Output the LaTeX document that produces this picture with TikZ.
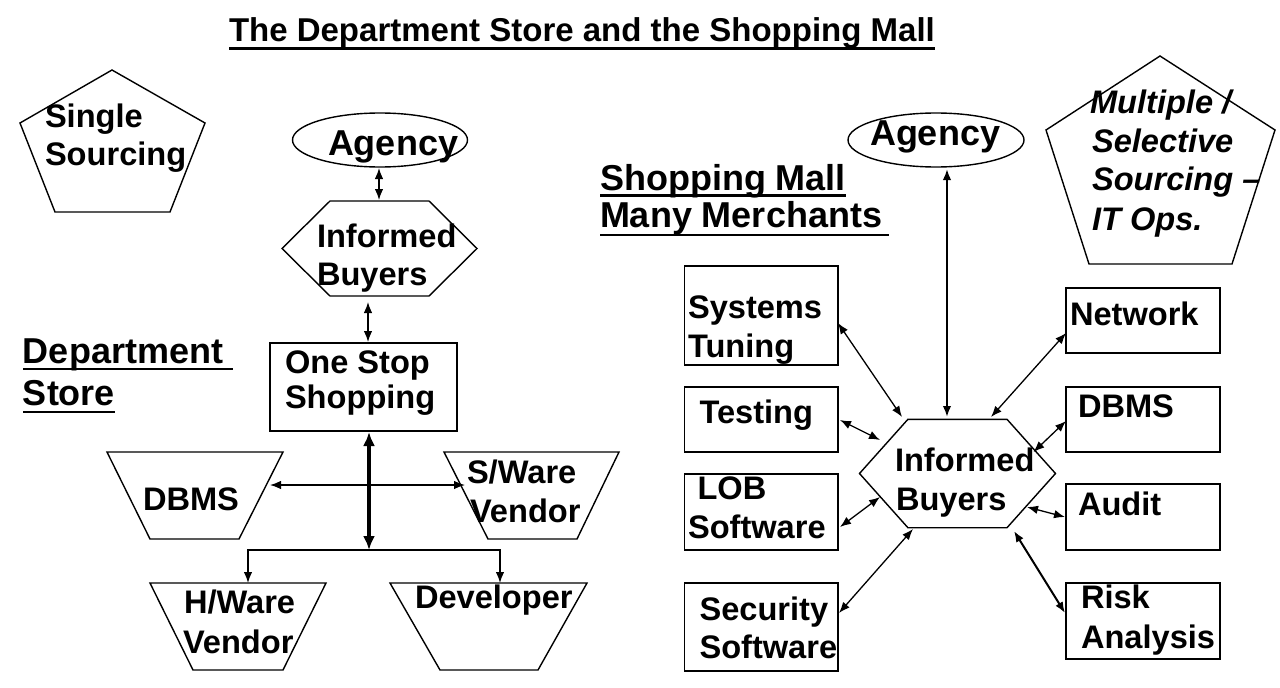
\documentclass[tikz,border=0pt]{standalone}
\usepackage{fontspec}
\setmainfont{Liberation Sans}
\usetikzlibrary{arrows.meta,calc,shapes.geometric}
\begin{document}
\begin{tikzpicture}[x=1pt,y=-1pt,
  every node/.style={inner sep=0pt, outer sep=0pt},
  txt/.style={anchor=base west, font=\fontsize{32.6}{38}\selectfont\bfseries},
  bigtxt/.style={anchor=base west, font=\fontsize{36}{42}\selectfont\bfseries},
  itxt/.style={anchor=base west, font=\fontsize{32.6}{38}\selectfont\bfseries\itshape},
  ttl/.style={anchor=base west, font=\fontsize{33}{40}\selectfont\bfseries},
  shp/.style={draw=black, line width=1.4pt, line join=miter},
  rboxL/.style={draw=black, line width=1.4pt, minimum width=153.5pt},
  rboxR/.style={draw=black, line width=1.4pt, minimum width=154pt},
  oval/.style={draw=black, ellipse, line width=1.4pt, minimum width=175pt, minimum height=54pt},
  tip/.tip={Latex[length=11pt,width=8.5pt]},
  bi/.style={tip-tip, line width=1.3pt},
  bithick/.style={{Latex[length=14pt,width=12pt]}-{Latex[length=14pt,width=12pt]}, line width=3.2pt},
  uline/.style={line width=2.6pt}
]
\fill[white] (0,0) rectangle (1280,688);
\useasboundingbox (0,0) rectangle (1280,688);

% ---------- title ----------
\node[ttl] (title) at (229,41.5) {The Department Store and the Shopping Mall};
\draw[uline, line width=3pt] ([shift={(0,6.5)}]title.base west) -- ([shift={(0,6.5)}]title.base east);

% ---------- left: Single Sourcing pentagon ----------
\draw[shp] (112,70) -- (205,123) -- (170,212) -- (55,212) -- (20,123) -- cycle;
\node[txt] (ss1) at (45,127) {Single};
\node[txt] (ss2) at (45,165) {Sourcing};

% ---------- left: agency / buyers / one stop ----------
\node[oval] (agL) at (380,140) {};
\node[bigtxt] (agLt) at (328,155) {Agency};

\node[minimum width=195pt, minimum height=95pt] (ibL) at (379.5,248.5) {};
\draw[shp] (ibL.west) -- ([shift={(48,0)}]ibL.north west) -- ([shift={(-48,0)}]ibL.north east) -- (ibL.east)
  -- ([shift={(-48,0)}]ibL.south east) -- ([shift={(48,0)}]ibL.south west) -- cycle;
\node[txt] (ibL1) at (317,247) {Informed};
\node[txt] (ibL2) at (317,285) {Buyers};

\node[draw=black, line width=1.4pt, minimum width=187pt, minimum height=88pt] (os) at (363.5,387) {};
\node[txt] (os1) at (285,373) {One Stop};
\node[txt] (os2) at (285,408) {Shopping};

\node[bigtxt] (ds1) at (23,363) {Department};
\draw[uline] ([shift={(0,6)}]ds1.base west) -- ([shift={(10,6)}]ds1.base east);
\node[bigtxt] (ds2) at (23,405) {Store};
\draw[uline] ([shift={(0,7)}]ds2.base west) -- ([shift={(0,7)}]ds2.base east);

% trapezoids
\node[minimum width=176pt, minimum height=87pt] (dbL) at (195,495.5) {};
\draw[shp] (dbL.north west) -- (dbL.north east) -- ([shift={(-44,0)}]dbL.south east) -- ([shift={(43,0)}]dbL.south west) -- cycle;
\node[txt] (dbLt) at (143,510) {DBMS};

\node[minimum width=175pt, minimum height=87pt] (sw) at (531.5,495.5) {};
\draw[shp] (sw.north west) -- (sw.north east) -- ([shift={(-42,0)}]sw.south east) -- ([shift={(44,0)}]sw.south west) -- cycle;
\node[txt] (sw1) at (467,483) {S/Ware};
\node[txt] (sw2) at (470,522) {Vendor};

\node[minimum width=176pt, minimum height=87pt] (hw) at (238,626.5) {};
\draw[shp] (hw.north west) -- (hw.north east) -- ([shift={(-43,0)}]hw.south east) -- ([shift={(43,0)}]hw.south west) -- cycle;
\node[txt] (hw1) at (184,613) {H/Ware};
\node[txt] (hw2) at (183,653) {Vendor};

\node[minimum width=197pt, minimum height=87pt] (dev) at (488.5,626.5) {};
\draw[shp] (dev.north west) -- (dev.north east) -- ([shift={(-49,0)}]dev.south east) -- ([shift={(50,0)}]dev.south west) -- cycle;
\node[txt] (devt) at (415,608) {Developer};

% left connectors
\coordinate (br) at (369,550);
\draw[bi] ([shift={(-1,1)}]agL.south) -- ([shift={(-0.5,-1)}]ibL.north);
\draw[bi] ([shift={(-11.5,6)}]ibL.south) -- ([shift={(4.5,-1)}]os.north);
\draw[bithick] ([shift={(5.5,1)}]os.south) -- (br);
\draw[bi] ([shift={(-13,-10.5)}]dbL.east) -- ([shift={(21,-10.5)}]sw.west);
\draw[-tip, line width=1.4pt] (br) -| ([shift={(10,0)}]hw.north);
\draw[-tip, line width=1.4pt] (br) -| ([shift={(11.5,0)}]dev.north);

% ---------- right ----------
\node[bigtxt] (sm1) at (600,190) {Shopping Mall};
\draw[uline] ([shift={(0,5.5)}]sm1.base west) -- ([shift={(0,5.5)}]sm1.base east);
\node[bigtxt] (sm2) at (600,227) {Many Merchants};
\draw[uline] ([shift={(0,8)}]sm2.base west) -- ([shift={(7,8)}]sm2.base east);

\node[oval, minimum width=176pt] (agR) at (936,140) {};
\node[bigtxt] (agRt) at (870,145) {Agency};

\draw[shp] (1160,56) -- (1275,130) -- (1232,264) -- (1089,264) -- (1046,130) -- cycle;
\node[itxt] (ms1) at (1090,113) {Multiple /};
\node[itxt] (ms2) at (1092,152) {Selective};
\node[itxt] (ms3) at (1092,190) {Sourcing –};
\node[itxt] (ms4) at (1092,230) {IT Ops.};

\node[minimum width=196pt, minimum height=108.4pt] (hxR) at (957.5,473.5) {};
\draw[shp] (hxR.west) -- ([shift={(48.4,0)}]hxR.north west) -- ([shift={(-48.5,0)}]hxR.north east) -- (hxR.east)
  -- ([shift={(-48.5,0)}]hxR.south east) -- ([shift={(48.4,0)}]hxR.south west) -- cycle;
\node[txt] (ibR1) at (895,471) {Informed};
\node[txt] (ibR2) at (896,510) {Buyers};

\node[rboxL, minimum height=99pt] (sys) at (761.25,315.5) {};
\node[txt] (sys1) at (688,318) {Systems};
\node[txt] (sys2) at (688,357) {Tuning};
\node[rboxL, minimum height=65pt] (tst) at (761.25,419.5) {};
\node[txt] (tstt) at (699.5,423) {Testing};
\node[rboxL, minimum height=76pt] (lob) at (761.25,512) {};
\node[txt] (lob1) at (697.5,499) {LOB};
\node[txt] (lob2) at (688,538) {Software};
\node[rboxL, minimum height=88pt] (sec) at (761.25,627) {};
\node[txt] (sec1) at (699.5,620) {Security};
\node[txt] (sec2) at (699.5,658) {Software};

\node[rboxR, minimum height=65pt] (net) at (1143,320.5) {};
\node[txt] (nett) at (1070,325) {Network};
\node[rboxR, minimum height=65pt] (dbR) at (1143,419.5) {};
\node[txt] (dbRt) at (1078,417) {DBMS};
\node[rboxR, minimum height=66pt] (aud) at (1143,517) {};
\node[txt] (audt) at (1078,515) {Audit};
\node[rboxR, minimum height=76pt] (rsk) at (1143,621) {};
\node[txt] (rsk1) at (1081,608) {Risk};
\node[txt] (rsk2) at (1081,648) {Analysis};

% right connectors
\draw[bi, line width=2pt] ([shift={(11,2)}]agR.south) -- ([shift={(-10.5,-56.5)}]hxR.center);
\draw[bi] ([shift={(0,57)}]sys.north east) -- ([shift={(-55.5,-56.5)}]hxR.center);
\draw[bi] ([shift={(2,33)}]tst.north east) -- ([shift={(-77.5,-33.5)}]hxR.center);
\draw[bi] ([shift={(2,53)}]lob.north east) -- ([shift={(-77.5,23.5)}]hxR.center);
\draw[bi] ([shift={(1,30)}]sec.north east) -- ([shift={(-44.5,55.5)}]hxR.center);
\draw[bi] ([shift={(0,45)}]net.north west) -- ([shift={(33.5,-56.5)}]hxR.center);
\draw[bi] ([shift={(0,34)}]dbR.north west) -- ([shift={(76,-21.5)}]hxR.center);
\draw[bi] ([shift={(-1,33)}]aud.north west) -- ([shift={(69.5,33.5)}]hxR.center);
\draw[bi, line width=2pt] ([shift={(-1,30)}]rsk.north west) -- ([shift={(56.5,57.5)}]hxR.center);
\end{tikzpicture}
\end{document}
